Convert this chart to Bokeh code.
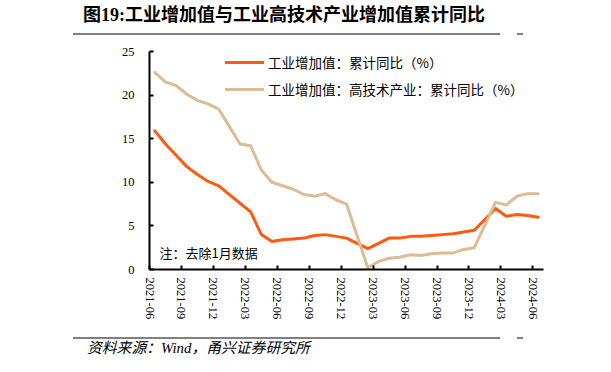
import math
from bokeh.plotting import figure
from bokeh.layouts import column
from bokeh.models import (FixedTicker, Legend, LegendItem, Label, Range1d,
                          ColumnDataSource, Div)
from bokeh.embed import file_html
from bokeh.resources import INLINE

# ---------------- data (January removed) ----------------
months = [
    "2021-06", "2021-07", "2021-08", "2021-09", "2021-10", "2021-11", "2021-12",
    "2022-02", "2022-03", "2022-04", "2022-05", "2022-06", "2022-07", "2022-08",
    "2022-09", "2022-10", "2022-11", "2022-12",
    "2023-02", "2023-03", "2023-04", "2023-05", "2023-06", "2023-07", "2023-08",
    "2023-09", "2023-10", "2023-11", "2023-12",
    "2024-02", "2024-03", "2024-04", "2024-05", "2024-06",
]
industrial = [
    15.9, 14.4, 13.1, 11.8, 10.9, 10.1, 9.6,
    7.6, 6.6, 4.0, 3.2, 3.4, 3.5, 3.6, 3.9, 4.0, 3.8, 3.6,
    2.4, 3.0, 3.6, 3.6, 3.8, 3.8, 3.9, 4.0, 4.1, 4.3, 4.5,
    7.0, 6.1, 6.3, 6.2, 6.0,
]
hightech = [
    22.6, 21.5, 21.1, 20.1, 19.4, 19.0, 18.4,
    14.4, 14.2, 11.4, 10.0, 9.6, 9.2, 8.6, 8.4, 8.7, 8.0, 7.5,
    0.2, 0.9, 1.3, 1.4, 1.7, 1.6, 1.8, 1.9, 1.9, 2.3, 2.5,
    7.7, 7.4, 8.4, 8.7, 8.7,
]
tick_labels = ["2021-06", "2021-09", "2021-12", "2022-03", "2022-06", "2022-09",
               "2022-12", "2023-03", "2023-06", "2023-09", "2023-12", "2024-03",
               "2024-06"]
y_ticks = [0, 5, 10, 15, 20, 25]

series_names = ["工业增加值：累计同比（%）", "工业增加值：高技术产业：累计同比（%）"]
title_text = "图19:工业增加值与工业高技术产业增加值累计同比"
note_text = "注：去除1月数据"
source_text = "资料来源：Wind，甬兴证券研究所"

ORANGE = "#FF5A0F"
TAN = "#DCBC94"
RULE = "#808080"
CJK = "Noto Sans CJK SC"
SERIF = "Liberation Serif"


def month_index(s):
    y, m = s.split("-")
    return (int(y) - 2021) * 12 + int(m) - 6


x_pos = [month_index(m) + 0.5 for m in months]
tick_pos = [month_index(t) for t in tick_labels]

src = ColumnDataSource(dict(x=x_pos, ind=industrial, ht=hightech))

W = 611
TOP_H = 40
BOT_H = 42
FIG_H = 372 - TOP_H - BOT_H

p = figure(width=W, height=FIG_H, output_backend="svg", toolbar_location=None,
           x_range=Range1d(0, 37), y_range=Range1d(0, 25),
           min_border_left=149, min_border_right=68,
           min_border_top=11, min_border_bottom=61)
p.outline_line_color = None
p.xgrid.visible = False
p.ygrid.visible = False
p.background_fill_color = "white"
p.border_fill_color = "white"

r1 = p.line("x", "ind", source=src, line_color=ORANGE, line_width=3,
            line_join="round", line_cap="round")
r2 = p.line("x", "ht", source=src, line_color=TAN, line_width=3,
            line_join="round", line_cap="round")

for ax in (p.xaxis[0], p.yaxis[0]):
    ax.axis_line_color = "black"
    ax.axis_line_width = 2
    ax.major_tick_line_color = "black"
    ax.major_tick_line_width = 2
    ax.major_tick_in = 4
    ax.major_tick_out = 0
    ax.minor_tick_line_color = None
    ax.major_label_text_font = SERIF
    ax.major_label_text_font_size = "12.5px"
    ax.major_label_text_color = "black"

p.xaxis.ticker = FixedTicker(ticks=tick_pos)
p.xaxis.major_label_overrides = {pos: lab for pos, lab in zip(tick_pos, tick_labels)}
p.xaxis.major_label_orientation = -math.pi / 2
p.xaxis.major_label_standoff = 8

p.yaxis.ticker = FixedTicker(ticks=y_ticks)
p.yaxis.major_label_standoff = 15

legend = Legend(items=[LegendItem(label=series_names[0], renderers=[r1]),
                       LegendItem(label=series_names[1], renderers=[r2])],
                location=(76, 170), orientation="vertical",
                glyph_width=39, glyph_height=20, label_height=20,
                label_standoff=4, spacing=7, padding=0, margin=0,
                border_line_color=None, background_fill_alpha=0,
                label_text_font=CJK, label_text_font_size="13.5px",
                label_text_color="black")
p.add_layout(legend, "center")

p.add_layout(Label(x=10, y=17, x_units="screen", y_units="screen", text=note_text,
                   text_font=CJK, text_font_size="13px", text_color="black",
                   text_baseline="middle", text_align="left"))

font_stack = "'%s','%s',serif" % (SERIF, CJK)
top_html = (
    '<div style="position:relative;width:%dpx;height:%dpx;margin:0;padding:0;">'
    '<div style="position:absolute;left:83px;top:5px;white-space:nowrap;'
    'font-family:%s;font-weight:bold;font-size:18px;line-height:20px;color:#000;">%s</div>'
    '<div style="position:absolute;left:73px;top:33px;width:427px;height:2px;background:%s;"></div>'
    '<div style="position:absolute;left:517px;top:33px;width:6px;height:2px;background:%s;"></div>'
    '</div>' % (W, TOP_H, font_stack, title_text, RULE, RULE)
)
bot_html = (
    '<div style="position:relative;width:%dpx;height:%dpx;margin:0;padding:0;">'
    '<div style="position:absolute;left:73px;top:7px;width:427px;height:2px;background:%s;"></div>'
    '<div style="position:absolute;left:517px;top:7px;width:6px;height:2px;background:%s;"></div>'
    '<div style="position:absolute;left:87px;top:10px;white-space:nowrap;'
    'font-family:%s;font-style:italic;font-size:14.8px;line-height:16px;color:#000;">%s</div>'
    '</div>' % (W, BOT_H, RULE, RULE, font_stack, source_text)
)
top_div = Div(text=top_html, width=W, height=TOP_H, margin=0)
bot_div = Div(text=bot_html, width=W, height=BOT_H, margin=0)

layout = column(top_div, p, bot_div, spacing=0)
open("out.html", "w").write(file_html(layout, INLINE))
